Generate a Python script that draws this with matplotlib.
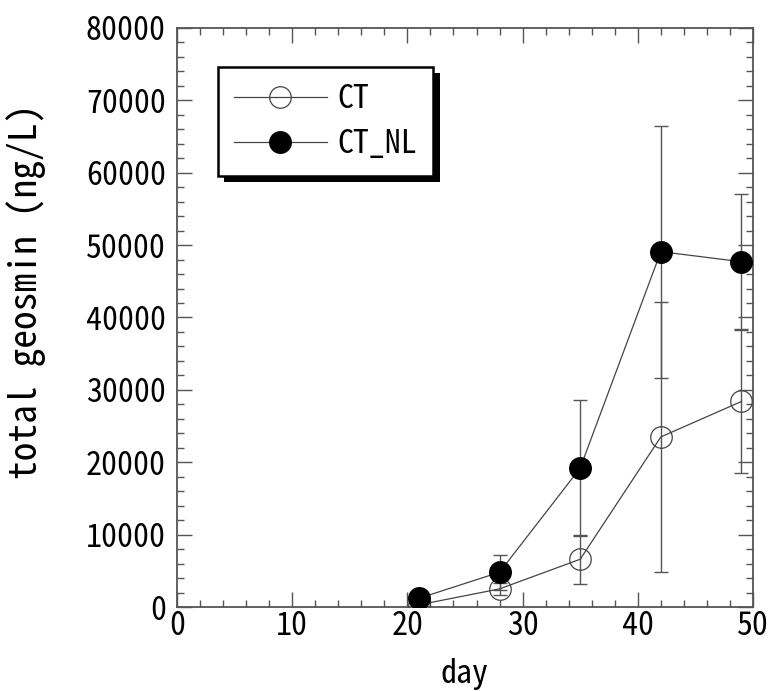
import numpy as np
import matplotlib
matplotlib.use('Agg')
import matplotlib.pyplot as plt
from matplotlib.ticker import MultipleLocator
import matplotlib.patheffects as pe

days = [21, 28, 35, 42, 49]
ct = [300, 2500, 6600, 23500, 28400]
ct_err = [300, 800, 3400, 18600, 9900]
ct_nl = [1200, 4800, 19200, 49100, 47700]
ct_nl_err = [300, 2400, 9400, 17400, 9300]

gothic = ['Noto Sans Mono CJK JP', 'Noto Sans CJK JP', 'DejaVu Sans']
grey = '#555555'

fig = plt.figure(figsize=(7.71, 6.91), dpi=100)
ax = fig.add_axes([177/771, 84/691, 576/771, 579/691])

ax.errorbar(days, ct, yerr=ct_err, fmt='none', ecolor=grey, elinewidth=1,
            capsize=5, capthick=1, zorder=2)
ax.errorbar(days, ct_nl, yerr=ct_nl_err, fmt='none', ecolor=grey, elinewidth=1,
            capsize=5, capthick=1, zorder=2)
ax.plot(days, ct, color='#444444', lw=0.9, marker='o', ms=15.5, mfc='none',
        mec='#444444', mew=0.9, label='CT', zorder=3)
ax.plot(days, ct_nl, color='#444444', lw=0.9, marker='o', ms=15.5, mfc='black',
        mec='black', label='CT_NL', zorder=4)

ax.set_xlim(0, 50)
ax.set_ylim(0, 80000)
ax.xaxis.set_major_locator(MultipleLocator(10))
ax.xaxis.set_minor_locator(MultipleLocator(2))
ax.yaxis.set_major_locator(MultipleLocator(10000))
ax.yaxis.set_minor_locator(MultipleLocator(2000))
ax.tick_params(which='both', direction='in', top=True, right=True, color=grey, width=1)
ax.tick_params(which='major', length=11)
ax.tick_params(which='minor', length=5)
ax.tick_params(axis='x', pad=2)
ax.tick_params(axis='y', pad=8)
for lab in ax.get_xticklabels() + ax.get_yticklabels():
    lab.set_family(gothic)
    lab.set_fontsize(23)
for sp in ax.spines.values():
    sp.set_color(grey)
    sp.set_linewidth(1.3)

ax.set_xlabel('day', family=gothic, fontsize=23, labelpad=12)
ax.set_ylabel('total geosmin (ng/L)', family=gothic, fontsize=27)
ax.yaxis.set_label_coords(-0.228, 0.545)

leg = ax.legend(loc='upper left', bbox_to_anchor=(41/576, 1 - 39/579), borderaxespad=0,
                prop={'family': gothic, 'size': 23}, handlelength=2.9, handletextpad=0.35,
                borderpad=0.5, labelspacing=0.4, fancybox=False, framealpha=1,
                edgecolor='black')
leg.get_frame().set_linewidth(1.8)
leg.get_frame().set_path_effects([pe.SimplePatchShadow(offset=(4.5, -4.5), shadow_rgbFace='black', alpha=1),
                                  pe.Normal()])

fig.savefig('out.png', dpi=100)
